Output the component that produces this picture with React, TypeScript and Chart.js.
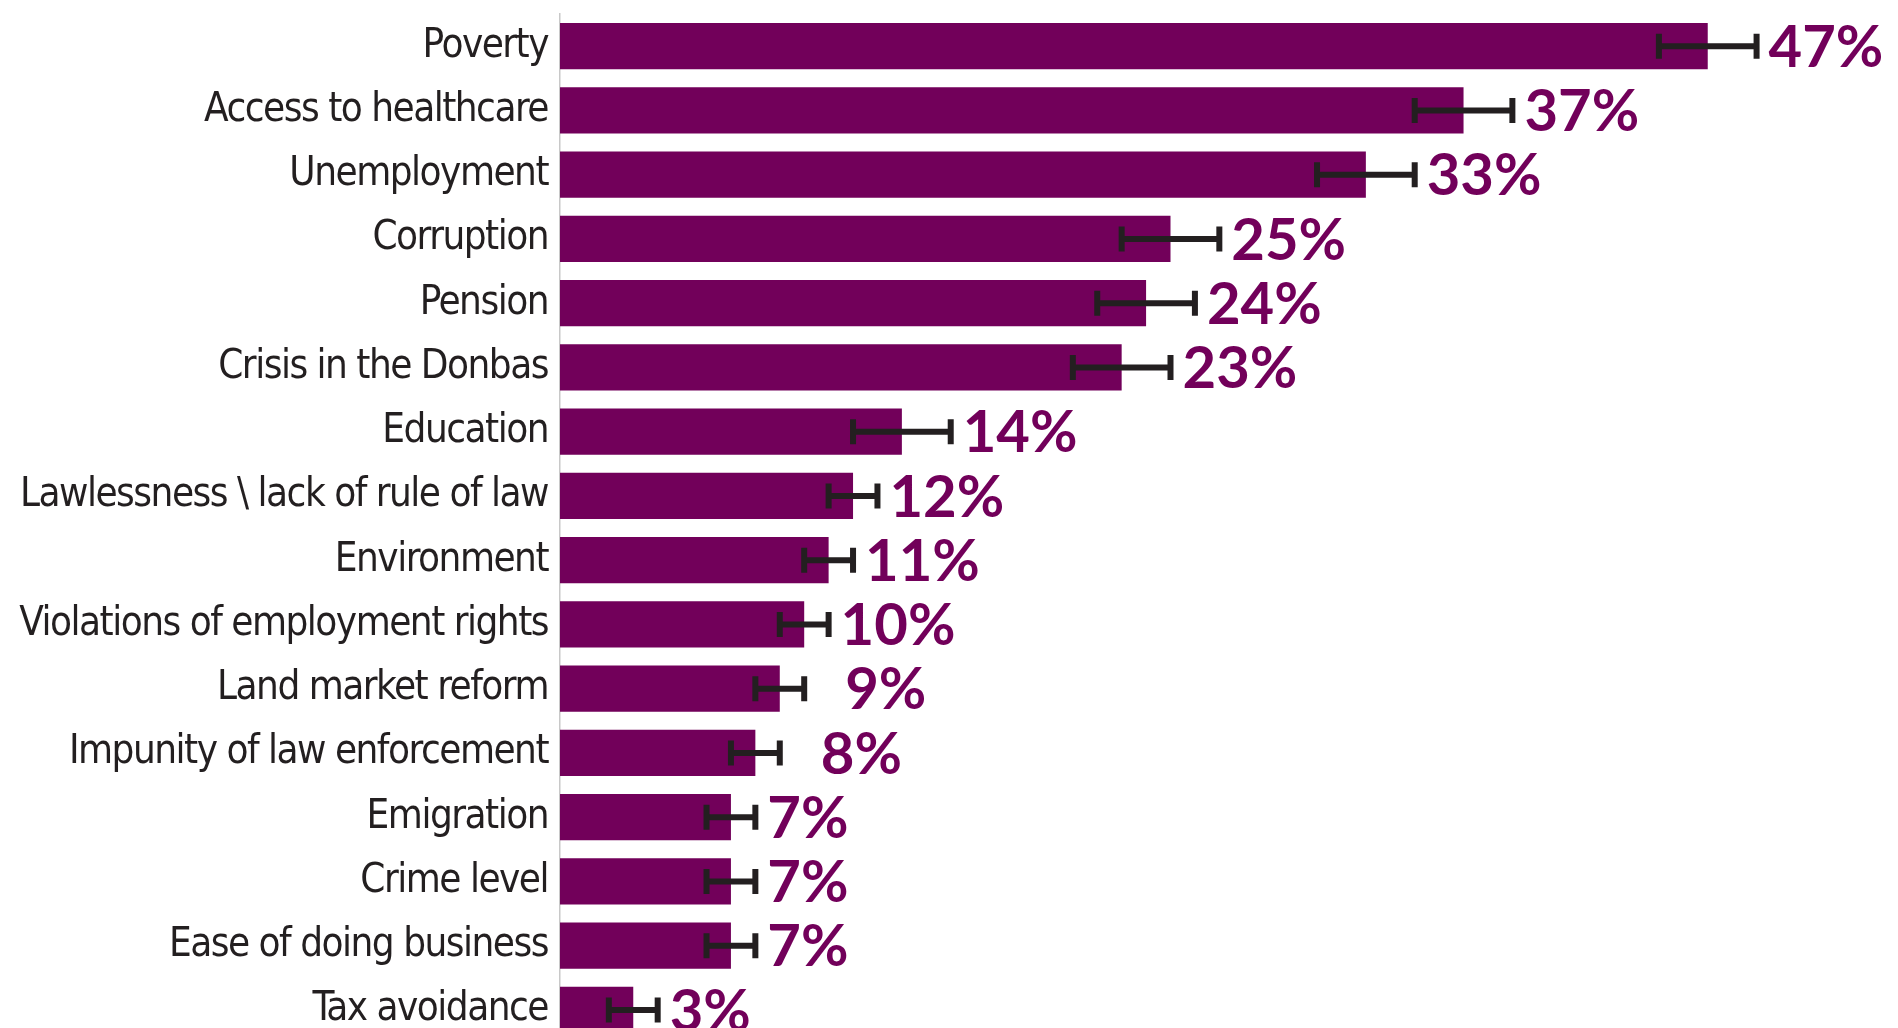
import React, { useEffect, useRef } from "react";
import { Chart, registerables } from "chart.js";

Chart.register(...registerables);

const categories = [
  "Poverty",
  "Access to healthcare",
  "Unemployment",
  "Corruption",
  "Pension",
  "Crisis in the Donbas",
  "Education",
  "Lawlessness \\ lack of rule of law",
  "Environment",
  "Violations of employment rights",
  "Land market reform",
  "Impunity of law enforcement",
  "Emigration",
  "Crime level",
  "Ease of doing business",
  "Tax avoidance",
];

const values = [47, 37, 33, 25, 24, 23, 14, 12, 11, 10, 9, 8, 7, 7, 7, 3];

const margins = [2, 2, 2, 2, 2, 2, 2, 1, 1, 1, 1, 1, 1, 1, 1, 1];

const valueLabels = [
  "47%", "37%", "33%", "25%", "24%", "23%", "14%", "12%",
  "11%", "10%", "\u20029%", "\u20028%", "7%", "7%", "7%", "3%",
];

const PURPLE = "#72005A";
const INK = "#231F20";
const TICK_SPACING = "-1.5px";

function hasFont(name: string): boolean {
  const ctx = document.createElement("canvas").getContext("2d")!;
  const t = "Violations of employment rights 0123";
  ctx.font = `40px "${name}", monospace`;
  const a = ctx.measureText(t).width;
  ctx.font = `40px "${name}", serif`;
  const b = ctx.measureText(t).width;
  return Math.abs(a - b) < 0.01;
}

export default function App() {
  const ref = useRef<HTMLCanvasElement>(null);

  useEffect(() => {
    const canvas = ref.current;
    if (!canvas) return;

    let family = "Liberation Sans Narrow";
    if (!hasFont(family)) {
      family = hasFont("DejaVu Sans Condensed") ? "DejaVu Sans Condensed" : "Liberation Sans";
    }
    const probe = document.createElement("canvas").getContext("2d")! as any;
    probe.letterSpacing = TICK_SPACING;
    let tickSize = 44;
    for (let s = 44; s >= 28; s--) {
      probe.font = `${s}px "${family}"`;
      if (probe.measureText("Violations of employment rights").width <= 536) {
        tickSize = s;
        break;
      }
    }

    const spacing = {
      id: "tickSpacing",
      beforeDraw(chart: any) {
        (chart.ctx as any).letterSpacing = TICK_SPACING;
      },
      afterDraw(chart: any) {
        (chart.ctx as any).letterSpacing = "0px";
      },
    };

    const errorBars = {
      id: "errorBars",
      afterDatasetsDraw(chart: any) {
        const ctx = chart.ctx as any;
        const meta = chart.getDatasetMeta(0);
        const xs = chart.scales.x;
        ctx.save();
        ctx.letterSpacing = "0px";
        meta.data.forEach((bar: any, i: number) => {
          const y = bar.y;
          const lo = xs.getPixelForValue(values[i] - margins[i]);
          const hi = xs.getPixelForValue(values[i] + margins[i]);
          ctx.strokeStyle = INK;
          ctx.lineWidth = 6;
          ctx.lineCap = "butt";
          ctx.beginPath();
          ctx.moveTo(lo, y);
          ctx.lineTo(hi, y);
          ctx.moveTo(lo, y - 12.5);
          ctx.lineTo(lo, y + 12.5);
          ctx.moveTo(hi, y - 12.5);
          ctx.lineTo(hi, y + 12.5);
          ctx.stroke();
          ctx.fillStyle = PURPLE;
          ctx.font = "bold 58px Lato";
          ctx.textAlign = "left";
          ctx.textBaseline = "middle";
          ctx.fillText(valueLabels[i], hi + 12, y + 2);
        });
        ctx.restore();
      },
    };

    const chart = new Chart(canvas, {
      type: "bar",
      data: {
        labels: categories,
        datasets: [
          {
            data: values,
            backgroundColor: PURPLE,
            borderWidth: 0,
            barPercentage: 0.716,
            categoryPercentage: 1,
          },
        ],
      },
      options: {
        indexAxis: "y",
        responsive: false,
        animation: false,
        devicePixelRatio: 1,
        layout: { padding: { top: 14, right: 117, bottom: 0, left: 0 } },
        plugins: {
          legend: { display: false },
          tooltip: { enabled: false },
        },
        scales: {
          x: {
            display: false,
            min: 0,
            max: 50,
          },
          y: {
            grid: { display: false, drawTicks: false },
            border: { display: true, color: "#C8C8C8", width: 1.5 },
            ticks: {
              color: INK,
              padding: 12,
              font: { family: `"${family}"`, size: tickSize },
            },
            afterFit(scale: any) {
              scale.width = 560;
              scale.paddingTop = 0;
              scale.paddingBottom = 0;
            },
          },
        },
      },
      plugins: [spacing, errorBars],
    } as any);

    return () => chart.destroy();
  }, []);

  return (
    <div
      style={{
        position: "absolute",
        left: 0,
        top: 0,
        width: 1898,
        height: 1028,
        overflow: "hidden",
        background: "#fff",
      }}
    >
      <canvas ref={ref} width={1898} height={1042} style={{ display: "block" }} />
    </div>
  );
}
